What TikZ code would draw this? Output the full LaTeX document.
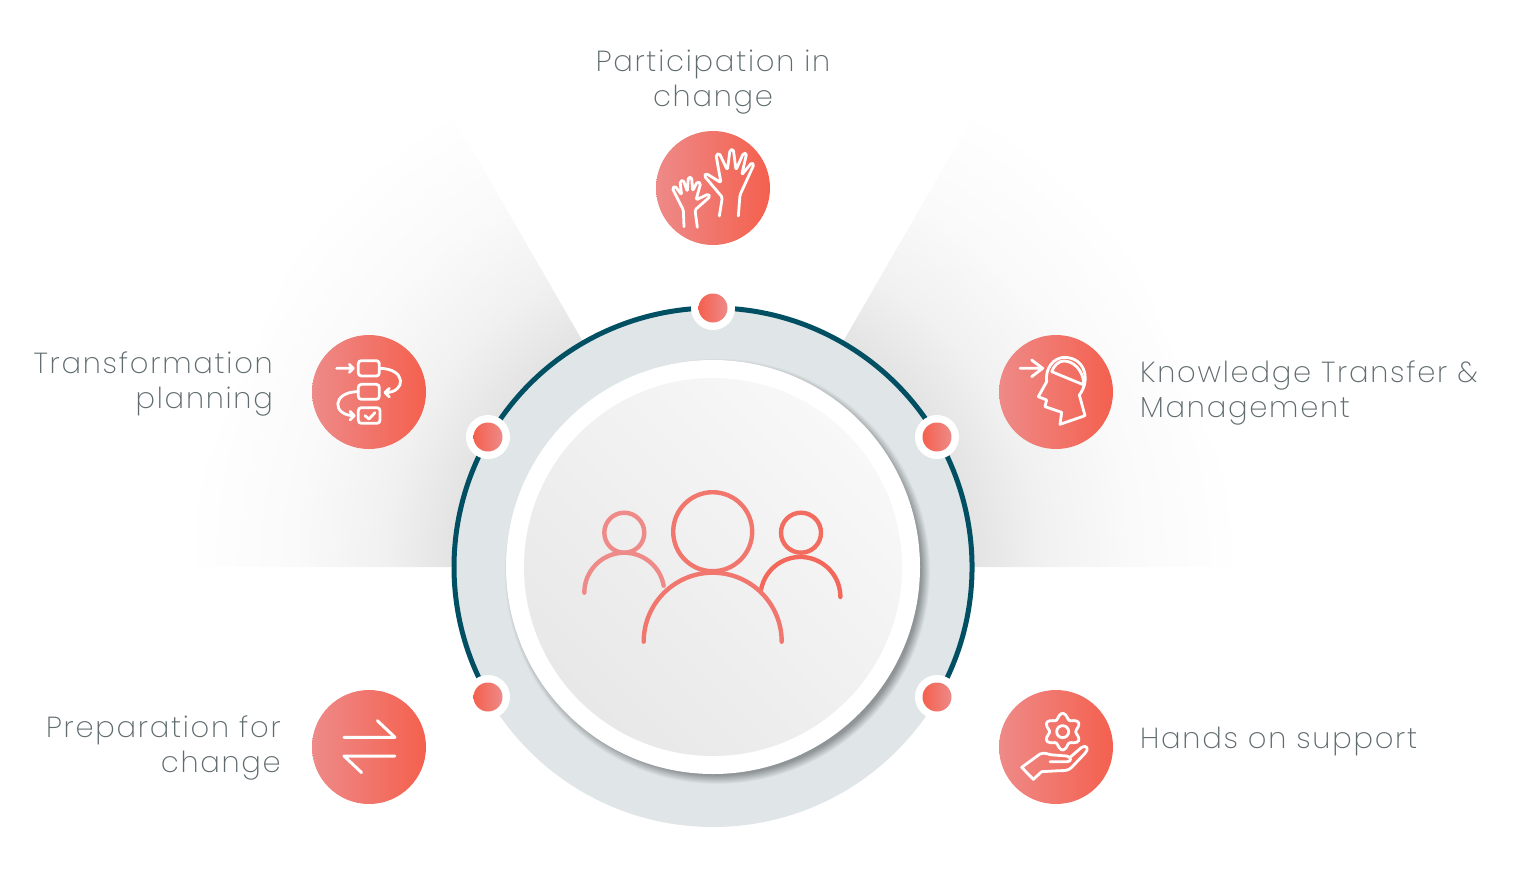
\documentclass[tikz,border=0pt]{standalone}
\usepackage{fontspec}
\setmainfont{Poppins ExtraLight}[LetterSpace=6]
\usepackage{xcolor}
\usepackage{tikz}

\definecolor{ringgray}{HTML}{E0E5E8}
\definecolor{ringteal}{HTML}{014F63}
\definecolor{redleft}{HTML}{EE8A88}
\definecolor{redright}{HTML}{F4604E}
\definecolor{labelgray}{HTML}{5F6B6E}
\definecolor{discdark}{HTML}{E8E8E8}
\definecolor{disclight}{HTML}{F8F8F8}

\pgfdeclareradialshading{wedgeglow}{\pgfpoint{0bp}{0bp}}{%
  rgb(0bp)=(0.87,0.87,0.87);
  rgb(12bp)=(0.89,0.89,0.89);
  rgb(15.3bp)=(0.945,0.945,0.945);
  rgb(19.4bp)=(0.98,0.98,0.98);
  rgb(24.5bp)=(1,1,1);
  rgb(50bp)=(1,1,1)}
\pgfdeclareradialshading{discshadow}{\pgfpoint{0bp}{0bp}}{%
  rgb(0bp)=(0.56,0.58,0.59);
  rgb(23.9bp)=(0.56,0.58,0.59);
  rgb(25bp)=(0.878,0.898,0.91);
  rgb(50bp)=(0.878,0.898,0.91)}

\tikzset{
  roundicon/.style={circle, minimum size=114pt, inner sep=0pt, left color=redleft, right color=redright},
  dotring/.style={circle, minimum size=44pt, inner sep=0pt, fill=white},
  dotred/.style={circle, minimum size=29pt, inner sep=0pt, left color=redright, right color=redleft},
  itemlabel/.style={text=labelgray, inner sep=0pt, font=\fontsize{29}{35}\selectfont},
  iconline/.style={draw=white, line width=2.8pt, line cap=round, line join=round},
  peopleline/.style={line width=4.4pt, line cap=round}
}

\begin{document}
\begin{tikzpicture}[x=1pt,y=-1pt]
  \useasboundingbox (0,0) rectangle (1518,889);

  % fading wedges behind the ring
  \begin{scope}
    \clip (713,567) -- (163,567) -- (395,16) -- cycle;
    \shade[shading=wedgeglow] (713,567) circle (540);
  \end{scope}
  \begin{scope}
    \clip (713,567) -- (1263,567) -- (1031,16) -- cycle;
    \shade[shading=wedgeglow] (713,567) circle (540);
  \end{scope}

  % ring and centre disc
  \node[circle, minimum size=520pt, inner sep=0pt, fill=ringgray] (ring) at (713,567) {};
  \draw[ringteal, line width=5pt] (937.3,696.5) arc[start angle=30, end angle=-210, radius=259];
  \shade[shading=discshadow] (717,571) circle (213);
  \node[circle, minimum size=414pt, inner sep=0pt, fill=white] (disc) at (713,567) {};
  \node[circle, minimum size=378pt, inner sep=0pt, left color=discdark, right color=disclight, shading angle=135] (inner) at (713,567) {};

  % people
  \draw[peopleline, draw=redleft] (624.3,532.7) circle (20);
  \draw[peopleline, draw=redleft] (584.3,592.7) arc[start angle=180, end angle=350, radius=40];
  \draw[peopleline, draw=redright!70!redleft] (801,532.7) circle (20);
  \draw[peopleline, draw=redright!80!redleft] (761,590) arc[start angle=190, end angle=360, radius=40];
  \draw[peopleline, draw=redright!45!redleft] (712.7,531.7) circle (39.5);
  \draw[peopleline, draw=redright!45!redleft] (643.7,641.7) arc[start angle=180, end angle=360, radius=69];

  % dots on the ring
  \foreach \dotname/\dotpos in {dotA/{(713,308)}, dotB/{(937,437)}, dotC/{(488,437)}, dotD/{(937,697)}, dotE/{(488,697)}}{
    \node[dotring] (\dotname) at \dotpos {};
    \node[dotred] at (\dotname) {};
  }

  % icon discs
  \node[roundicon] (hands) at (713,188) {};
  \node[roundicon] (plan) at (369,392) {};
  \node[roundicon] (head) at (1056,392) {};
  \node[roundicon] (swap) at (369,747) {};
  \node[roundicon] (gear) at (1056,747) {};

  % raised hands
  \begin{scope}[shift={(640,120)}, x=0.3333pt, y=-0.3333pt]
    \draw[iconline, rounded corners=1.5pt] (238,288) -- (247,232) -- (193,168) -- (198,160) -- (243,188) -- (228,105) -- (238,100) -- (262,150) -- (270,90) -- (280,88) -- (288,150) -- (310,100) -- (320,100) -- (305,165) -- (335,128) -- (342,133) -- (300,225) -- (295,288);
    \draw[iconline, rounded corners=1.5pt] (132,320) -- (130,270) -- (97,205) -- (105,198) -- (125,225) -- (120,185) -- (130,180) -- (142,215) -- (145,172) -- (155,172) -- (158,213) -- (172,185) -- (182,190) -- (168,240) -- (205,222) -- (210,230) -- (165,270) -- (172,322);
  \end{scope}

  % process plan
  \begin{scope}[shift={(300,325)}, x=0.3333pt, y=-0.3333pt]
    \draw[iconline, rounded corners=3pt] (175,107) rectangle (238,153);
    \draw[iconline, rounded corners=3pt] (175,178) rectangle (238,223);
    \draw[iconline, rounded corners=3pt] (175,248) rectangle (240,295);
    \draw[iconline] (110,130) -- (160,130) (148,118) -- (160,130) -- (148,142);
    \draw[iconline] (238,130) .. controls (320,130) and (320,203) .. (255,203) (268,190) -- (255,203) -- (268,216);
    \draw[iconline] (175,200) .. controls (95,200) and (95,272) .. (163,272) (150,259) -- (163,272) -- (150,285);
    \draw[iconline] (195,272) -- (207,282) -- (225,263);
  \end{scope}

  % head
  \begin{scope}[shift={(990,325)}, x=0.3333pt, y=-0.3333pt]
    \draw[iconline] (90,130) -- (158,130) (125,105) -- (158,130) -- (125,155);
    \draw[iconline] (210,298) -- (285,272) -- (268,210) .. controls (300,170) and (290,100) .. (225,97) .. controls (190,97) and (165,130) .. (170,170) -- (145,215) -- (170,225) -- (165,245) -- (215,262) -- cycle;
    \draw[iconline] (185,140) -- (282,180) .. controls (280,135) and (250,108) .. (222,108) .. controls (205,108) and (192,122) .. (185,140);
  \end{scope}

  % arrows
  \begin{scope}[shift={(300,680)}, x=0.3333pt, y=-0.3333pt]
    \draw[iconline, line width=3pt] (132,172) -- (285,172) -- (232,122);
    \draw[iconline, line width=3pt] (285,228) -- (132,228) -- (185,278);
  \end{scope}

  % hand with gear
  \begin{scope}[shift={(990,680)}, x=0.3333pt, y=-0.3333pt]
    \draw[iconline] (218,155) circle[radius=18];
    \draw[iconline] plot[smooth cycle, samples=49, domain=0:352.5] ({218+(47-8*cos(6*\x))*cos(\x)}, {155+(47-8*cos(6*\x))*sin(\x)});
    \draw[iconline] (130,298) -- (95,262) -- (150,222) .. controls (165,215) and (175,225) .. (190,225) -- (230,228) .. controls (245,232) and (245,245) .. (232,245) -- (180,245);
    \draw[iconline] (240,232) -- (275,202) .. controls (290,192) and (298,208) .. (285,220) -- (245,262) .. controls (235,272) and (225,272) .. (210,272) -- (155,275) -- (130,298);
  \end{scope}

  % labels
  \node[itemlabel, align=center] (handstext) at (713,82) {Participation in\\change};
  \node[itemlabel, align=right, anchor=east] (plantext) at (273,384) {Transformation\\planning};
  \node[itemlabel, align=left, anchor=west] (headtext) at (1140,393) {Knowledge Transfer \&\\Management};
  \node[itemlabel, align=right, anchor=east] (swaptext) at (281,748) {Preparation for\\change};
  \node[itemlabel, align=left, anchor=west] (geartext) at (1140,741) {Hands on support};
\end{tikzpicture}
\end{document}
